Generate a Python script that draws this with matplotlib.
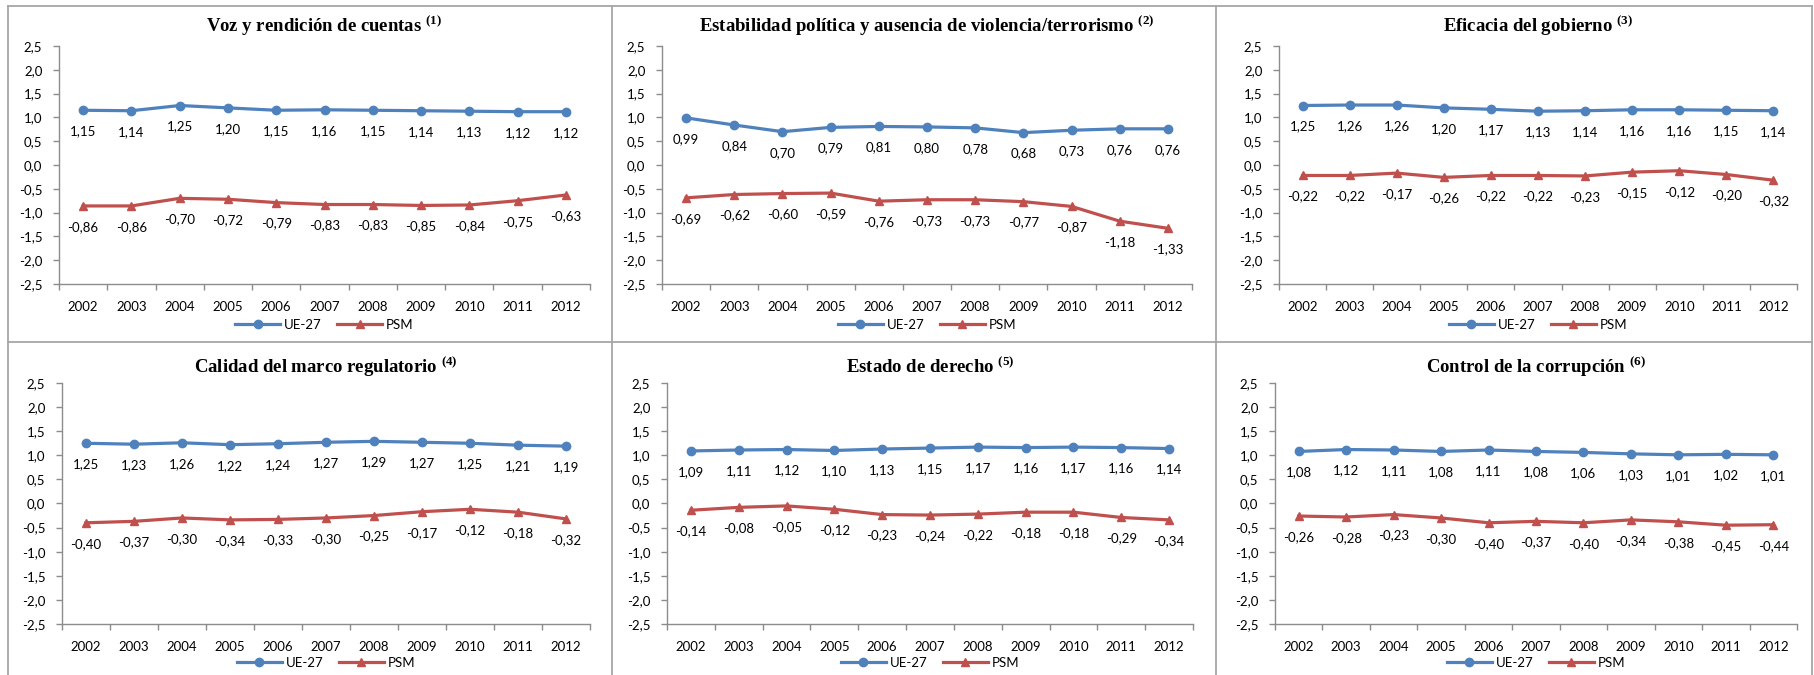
import matplotlib
matplotlib.use("Agg")
import matplotlib.pyplot as plt
from matplotlib.lines import Line2D

plt.rcParams['font.family'] = ['Lato', 'DejaVu Sans']
plt.rcParams['mathtext.fontset'] = 'custom'
plt.rcParams['mathtext.rm'] = 'Liberation Serif:bold'

# ============================================
# Data
# ============================================

years = ["2002", "2003", "2004", "2005", "2006", "2007",
         "2008", "2009", "2010", "2011", "2012"]

titles = [
    "Voz y rendición de cuentas",
    "Estabilidad política y ausencia de violencia/terrorismo",
    "Eficacia del gobierno",
    "Calidad del marco regulatorio",
    "Estado de derecho",
    "Control de la corrupción",
]

ue_voz = [1.15, 1.14, 1.25, 1.20, 1.15, 1.16, 1.15, 1.14, 1.13, 1.12, 1.12]
psm_voz = [-0.86, -0.86, -0.70, -0.72, -0.79, -0.83, -0.83, -0.85, -0.84, -0.75, -0.63]

ue_estab = [0.99, 0.84, 0.70, 0.79, 0.81, 0.80, 0.78, 0.68, 0.73, 0.76, 0.76]
psm_estab = [-0.69, -0.62, -0.60, -0.59, -0.76, -0.73, -0.73, -0.77, -0.87, -1.18, -1.33]

ue_efic = [1.25, 1.26, 1.26, 1.20, 1.17, 1.13, 1.14, 1.16, 1.16, 1.15, 1.14]
psm_efic = [-0.22, -0.22, -0.17, -0.26, -0.22, -0.22, -0.23, -0.15, -0.12, -0.20, -0.32]

ue_calidad = [1.25, 1.23, 1.26, 1.22, 1.24, 1.27, 1.29, 1.27, 1.25, 1.21, 1.19]
psm_calidad = [-0.40, -0.37, -0.30, -0.34, -0.33, -0.30, -0.25, -0.17, -0.12, -0.18, -0.32]

ue_derecho = [1.09, 1.11, 1.12, 1.10, 1.13, 1.15, 1.17, 1.16, 1.17, 1.16, 1.14]
psm_derecho = [-0.14, -0.08, -0.05, -0.12, -0.23, -0.24, -0.22, -0.18, -0.18, -0.29, -0.34]

ue_corrup = [1.08, 1.12, 1.11, 1.08, 1.11, 1.08, 1.06, 1.03, 1.01, 1.02, 1.01]
psm_corrup = [-0.26, -0.28, -0.23, -0.30, -0.40, -0.37, -0.40, -0.34, -0.38, -0.45, -0.44]

ue_series = [ue_voz, ue_estab, ue_efic, ue_calidad, ue_derecho, ue_corrup]
psm_series = [psm_voz, psm_estab, psm_efic, psm_calidad, psm_derecho, psm_corrup]

y_ticks = [-2.5, -2.0, -1.5, -1.0, -0.5, 0.0, 0.5, 1.0, 1.5, 2.0, 2.5]

# ============================================
# Layout (pixels)
# ============================================

W, H = 1814, 675
BLUE = "#4F81BD"
RED = "#C0504D"
GRAY = "#8C8C8C"

# (left, right, top, bottom) in pixels
boxes = [
    (59, 590, 46, 284),
    (662, 1192, 46, 284),
    (1279, 1797, 46, 284),
    (62, 590, 383, 624),
    (667, 1193, 383, 624),
    (1275, 1797, 383, 624),
]
title_gap = [20, 20, 20, 16, 16, 16]


def fmt(v):
    return f"{v:.2f}".replace(".", ",")


fig = plt.figure(figsize=(W / 100, H / 100), dpi=100)

# panel borders
for x in [8, 612, 1216, 1812]:
    fig.add_artist(Line2D([x / W, x / W], [0, 1 - 6 / H], color="#A6A6A6", lw=1.3))
for y in [6, 342]:
    fig.add_artist(Line2D([8 / W, 1812 / W], [1 - y / H, 1 - y / H], color="#A6A6A6", lw=1.3))

xs = list(range(len(years)))

for i in range(6):
    l, r, t, b = boxes[i]
    ax = fig.add_axes([l / W, 1 - b / H, (r - l) / W, (b - t) / H])
    ue = ue_series[i]
    psm = psm_series[i]

    ax.plot(xs, ue, color=BLUE, lw=2.3, marker="o", markersize=6, label="UE-27")
    ax.plot(xs, psm, color=RED, lw=2.3, marker="^", markersize=6, label="PSM")

    for x, v in zip(xs, ue):
        ax.annotate(fmt(v), (x, v), xytext=(0, -21), textcoords="offset pixels",
                    ha="center", va="center", fontsize=9.5, color="black")
    for x, v in zip(xs, psm):
        ax.annotate(fmt(v), (x, v), xytext=(0, -21), textcoords="offset pixels",
                    ha="center", va="center", fontsize=9.5, color="black")

    ax.set_xlim(-0.5, len(years) - 0.5)
    ax.set_ylim(-2.5, 2.5)
    ax.set_yticks(y_ticks)
    ax.set_yticklabels([f"{v:.1f}".replace(".", ",") for v in y_ticks], fontsize=9.5)
    ax.set_xticks(xs)
    ax.set_xticklabels(years, fontsize=9.5)
    ax.set_xticks([x + 0.5 for x in range(-1, len(years))], minor=True)
    ax.tick_params(axis="x", which="major", length=0, pad=12)
    ax.tick_params(axis="x", which="minor", length=4, color=GRAY, width=1)
    ax.tick_params(axis="y", length=4, color=GRAY, width=1, pad=8)

    for s in ["top", "right"]:
        ax.spines[s].set_visible(False)
    for s in ["left", "bottom"]:
        ax.spines[s].set_color(GRAY)
        ax.spines[s].set_linewidth(1)

    ax.text(0.5, 1 + title_gap[i] / (b - t), titles[i] + r" $\mathrm{^{(" + str(i + 1) + ")}}$",
            transform=ax.transAxes, ha="center", va="center",
            fontsize=13.5, fontweight="bold", family="Liberation Serif")

    leg_y = -(41 if i < 3 else 39) / (b - t)
    ax.legend(loc="center", bbox_to_anchor=(0.5, leg_y), ncol=2, frameon=False,
              fontsize=9.5, handlelength=3.4, columnspacing=1.2, handletextpad=0.3)

fig.savefig("out.png", dpi=100)
